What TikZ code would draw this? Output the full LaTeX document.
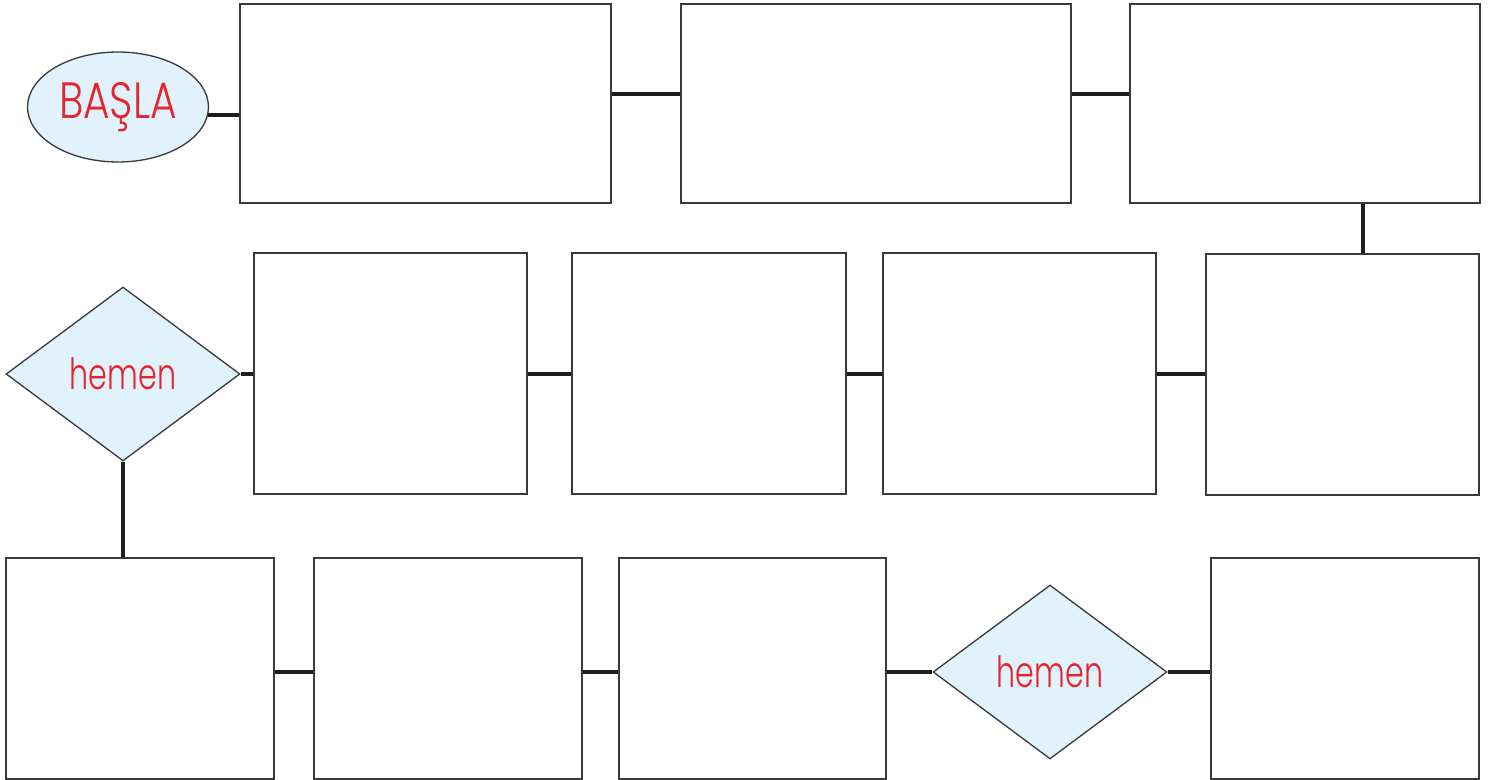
\documentclass[tikz,border=0pt]{standalone}
\usepackage{fontspec}
\setmainfont{Poppins}
\newfontfamily\geofont[FakeStretch=0.8, UprightFont={* Light}]{Poppins}
\newfontfamily\geofontn[FakeStretch=0.7, UprightFont={* Light}]{Poppins}
\usetikzlibrary{shapes.geometric,fit}
\definecolor{lblue}{HTML}{E0F2FC}
\definecolor{tred}{HTML}{E8232C}
\definecolor{edge}{HTML}{3A3A3A}
\definecolor{link}{HTML}{1E1E1E}
\tikzset{
  box/.style={draw=edge, line width=0.75pt, fill=white, inner sep=0pt, rectangle},
  startshape/.style={ellipse, draw=edge, line width=0.75pt, fill=lblue, minimum width=3.62cm, minimum height=2.2cm, inner sep=0pt, text=tred, font=\geofont\fontsize{29}{32}\selectfont},
  decision/.style={diamond, draw=edge, line width=0.75pt, fill=lblue, minimum width=4.68cm, minimum height=3.48cm, inner sep=0pt, text=tred, font=\geofontn\fontsize{24.5}{28}\selectfont},
  link/.style={draw=link, line width=1.9pt}
}
\begin{document}
\begin{tikzpicture}[x=0.02cm, y=-0.02cm]
\useasboundingbox (0,0) rectangle (1492,780);
% row 1
\node[startshape] (start) at (118,107) {BAŞLA};
\node[box, fit={(240,4) (611,203)}] (b1) {};
\node[box, fit={(681,4) (1071,203)}] (b2) {};
\node[box, fit={(1130,4) (1480,203)}] (b3) {};
% row 2
\node[decision] (d1) at (123,374) {hemen};
\node[box, fit={(254,253) (527,494)}] (r1) {};
\node[box, fit={(572,253) (846,494)}] (r2) {};
\node[box, fit={(883,253) (1156,494)}] (r3) {};
\node[box, fit={(1206,254) (1479,495)}] (r4) {};
% row 3
\node[box, fit={(6,558) (274,779)}] (s1) {};
\node[box, fit={(314,558) (582,779)}] (s2) {};
\node[box, fit={(619,558) (886,779)}] (s3) {};
\node[decision] (d2) at (1050,672) {hemen};
\node[box, fit={(1211,558) (1479,779)}] (s4) {};
\coordinate (vx) at (1363,0);
% connectors
\draw[link] (start.355) -- (start.355 -| b1.west);
\draw[link] ([yshift=0.19cm]b1.east) -- ([yshift=0.19cm]b2.west);
\draw[link] ([yshift=0.19cm]b2.east) -- ([yshift=0.19cm]b3.west);
\draw[link] (b3.south -| vx) -- (r4.north -| vx);
\draw[link] (r3.east |- d1) -- (r4.west |- d1);
\draw[link] (r2.east |- d1) -- (r3.west |- d1);
\draw[link] (r1.east |- d1) -- (r2.west |- d1);
\draw[link] (d1.east) -- (d1.east -| r1.west);
\draw[link] (d1.south) -- (d1.south |- s1.north);
\draw[link] (s1.east |- d2) -- (s2.west |- d2);
\draw[link] (s2.east |- d2) -- (s3.west |- d2);
\draw[link] (s3.east |- d2) -- (d2.west);
\draw[link] (d2.east) -- (d2.east -| s4.west);
\end{tikzpicture}
\end{document}
